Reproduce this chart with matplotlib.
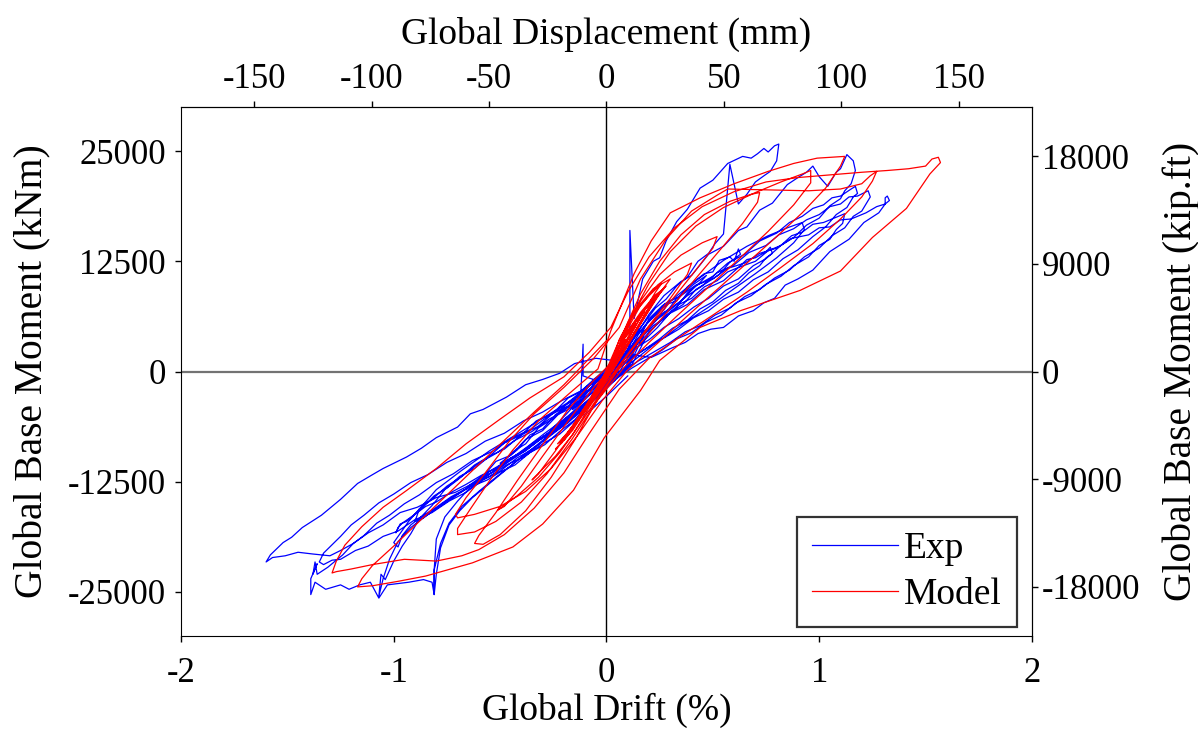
import matplotlib
matplotlib.use('Agg')
import matplotlib.pyplot as plt
import numpy as np

plt.rcParams['font.family'] = ['Liberation Serif', 'DejaVu Serif']
plt.rcParams['axes.unicode_minus'] = False

#-------------------------------------------------------------------------------
# data: (drift %, base moment kNm), cycle by cycle
exp_c1 = [(0.00, 0), (0.06, 1800), (0.12, 3500), (0.15, 4600), (0.11, 3300), (0.03, 900),
          (-0.05, -1200), (-0.12, -3300), (-0.16, -4300), (-0.12, -3500), (-0.04, -1400), (0.02, 300)]
exp_c2 = [(0.10, 3000), (0.18, 5200), (0.26, 7400), (0.30, 8100), (0.27, 7000), (0.15, 3800),
          (0.04, 800), (-0.08, -2000), (-0.18, -4600), (-0.27, -6900), (-0.32, -7800),
          (-0.28, -7200), (-0.16, -4600), (-0.04, -1700), (0.05, 800)]
exp_c3 = [(0.14, 3400), (0.20, 5000), (0.24, 6200), (0.29, 7000), (0.33, 8300), (0.41, 9900),
          (0.47, 10900), (0.44, 10100), (0.38, 8900), (0.33, 7300), (0.27, 6200), (0.20, 4400),
          (0.08, 1600), (-0.05, -1000), (-0.11, -500), (-0.11, 3100), (-0.12, -2200), (-0.18, -4000),
          (-0.24, -4900), (-0.30, -6500), (-0.36, -7200), (-0.42, -8900), (-0.50, -10400),
          (-0.47, -10100), (-0.41, -9300), (-0.35, -8200), (-0.28, -7100), (-0.20, -5600),
          (-0.13, -4500), (-0.06, -2600), (0.05, 100)]
exp_c4 = [(0.15, 4200), (0.22, 6300), (0.28, 7600), (0.33, 8000), (0.38, 9600), (0.46, 11100),
          (0.50, 11300), (0.53, 12600), (0.58, 13000), (0.60, 12500), (0.62, 13900), (0.63, 13300),
          (0.58, 12400), (0.53, 11000), (0.48, 10200), (0.42, 9300), (0.36, 7600), (0.30, 6700),
          (0.24, 5000), (0.12, 2200), (0.00, -400), (-0.08, -1600), (-0.15, -3600),
          (-0.22, -4700), (-0.30, -6700), (-0.38, -7700), (-0.45, -9500), (-0.52, -10200),
          (-0.57, -11600), (-0.65, -13000), (-0.62, -12900), (-0.56, -12300), (-0.50, -11400),
          (-0.43, -10600), (-0.36, -9200), (-0.29, -8300), (-0.22, -6800), (-0.15, -5500),
          (-0.08, -3500), (0.04, -600)]
exp_c5 = [(0.11, 3000), (0.11, 16000), (0.13, 6000), (0.17, 10500), (0.22, 12500), (0.25, 12900),
          (0.28, 14800), (0.33, 17000), (0.38, 18400), (0.44, 20800), (0.50, 21700), (0.57, 23600),
          (0.64, 24400), (0.68, 24200), (0.71, 24700), (0.74, 25300), (0.76, 24900), (0.79, 25600),
          (0.81, 25800), (0.80, 23900), (0.77, 22700), (0.74, 22200), (0.70, 21500), (0.66, 20100),
          (0.62, 19000), (0.58, 23500), (0.55, 15600), (0.51, 14500), (0.48, 13400), (0.43, 12500),
          (0.38, 10700), (0.33, 9700), (0.28, 8200), (0.23, 7200), (0.18, 5600), (0.08, 2600),
          (0.00, 300), (-0.06, -900), (-0.12, -2300), (-0.18, -3500), (-0.25, -5300),
          (-0.32, -6400), (-0.38, -8200), (-0.44, -9100), (-0.50, -10600), (-0.55, -11300),
          (-0.60, -12600), (-0.65, -13400), (-0.70, -14700), (-0.76, -16500), (-0.80, -19000),
          (-0.81, -22500), (-0.81, -25300), (-0.80, -23000), (-0.78, -20000), (-0.74, -17400),
          (-0.69, -15800), (-0.63, -14300), (-0.56, -12900), (-0.48, -11300), (-0.40, -9700),
          (-0.32, -8200), (-0.24, -6600), (-0.16, -5100), (-0.08, -3300), (0.02, -1000),
          (0.08, 0)]
exp_c6 = [(0.15, 3500), (0.22, 5200), (0.28, 6200), (0.34, 7600), (0.40, 8300), (0.46, 9600),
          (0.52, 10300), (0.57, 11300), (0.62, 11800), (0.66, 12700), (0.70, 12900), (0.75, 13600),
          (0.77, 14100), (0.78, 13400), (0.75, 12900), (0.72, 12000), (0.67, 11200), (0.62, 10000),
          (0.56, 9200), (0.50, 7900), (0.44, 7100), (0.38, 5800), (0.31, 4900), (0.25, 3700),
          (0.12, 1500), (0.00, -600), (-0.08, -1600), (-0.15, -3200), (-0.24, -4500),
          (-0.32, -6200), (-0.40, -7200), (-0.48, -8800), (-0.55, -9600), (-0.62, -11000),
          (-0.69, -11900), (-0.75, -13200), (-0.81, -14100), (-0.86, -15300), (-0.94, -17000),
          (-0.97, -17300), (-0.99, -18300), (-0.98, -17700), (-0.96, -17200), (-0.90, -16200),
          (-0.85, -15300), (-0.80, -14800), (-0.73, -13700), (-0.66, -12800), (-0.59, -11800),
          (-0.52, -11000), (-0.45, -9800), (-0.38, -8900), (-0.31, -7700), (-0.24, -6700),
          (-0.17, -5400), (-0.10, -3900), (0.02, -1300), (0.10, 600)]
exp_c7 = [(0.20, 6500), (0.27, 8600), (0.35, 10200), (0.40, 10900), (0.48, 13300), (0.55, 14200),
          (0.62, 16000), (0.66, 16400), (0.72, 18300), (0.78, 19100), (0.85, 21200), (0.90, 22000),
          (0.94, 22600), (0.97, 23300), (1.00, 22100), (1.04, 21000), (1.08, 22600), (1.10, 23000),
          (1.13, 24600), (1.16, 23900), (1.17, 22800), (1.15, 21300), (1.12, 20500), (1.10, 19600),
          (1.05, 18800), (1.00, 17400), (0.94, 16600), (0.88, 15200), (0.82, 14300), (0.75, 12800),
          (0.69, 12000), (0.62, 10500), (0.55, 9700), (0.48, 8300), (0.41, 7300), (0.34, 6000),
          (0.27, 5000), (0.20, 3600), (0.12, 2400), (0.05, 800), (-0.03, -500), (-0.10, -2000),
          (-0.18, -3000), (-0.25, -4700), (-0.33, -5600), (-0.40, -7200), (-0.48, -8100),
          (-0.55, -9600), (-0.62, -10600), (-0.70, -12300), (-0.76, -13400), (-0.82, -15200),
          (-0.88, -16700), (-0.92, -18400), (-0.96, -19800), (-1.00, -21500), (-1.04, -23600),
          (-1.06, -23000), (-1.07, -25500), (-1.05, -23500), (-1.02, -21300), (-0.98, -19300),
          (-0.92, -17700), (-0.85, -16400), (-0.77, -15100), (-0.69, -13800), (-0.61, -12600),
          (-0.53, -11300), (-0.45, -9900), (-0.37, -8500), (-0.29, -7000), (-0.21, -5600),
          (-0.13, -4200), (-0.05, -2500), (0.03, -700), (0.12, 800)]
exp_c8 = [(0.20, 4500), (0.29, 6500), (0.38, 7600), (0.46, 9300), (0.55, 10300), (0.62, 11800),
          (0.70, 12500), (0.76, 13700), (0.82, 14300), (0.87, 15400), (0.92, 15800), (0.97, 16700),
          (1.02, 16900), (1.08, 17500), (1.12, 17900), (1.11, 16800), (1.08, 16100), (1.05, 15000),
          (1.00, 14300), (0.95, 13000), (0.88, 12000), (0.82, 10800), (0.75, 9900), (0.68, 8600),
          (0.61, 7800), (0.54, 6400), (0.47, 5600), (0.40, 4400), (0.33, 3700), (0.26, 2400),
          (0.12, 400), (-0.02, -1900), (-0.10, -2900), (-0.18, -4300), (-0.27, -5400),
          (-0.35, -6800), (-0.43, -7800), (-0.52, -9300), (-0.60, -10400), (-0.68, -11900),
          (-0.75, -13000), (-0.82, -14500), (-0.88, -15600), (-0.93, -17000), (-1.00, -19400),
          (-0.98, -19900), (-0.96, -18600), (-0.92, -17400), (-0.86, -16300), (-0.80, -15400),
          (-0.73, -14200), (-0.66, -13300), (-0.59, -12100), (-0.52, -11200), (-0.45, -9900),
          (-0.38, -9000), (-0.31, -7600), (-0.24, -6600), (-0.17, -5200), (-0.09, -3600),
          (0.04, -1000)]
exp_c9 = [(0.15, 3800), (0.22, 5600), (0.30, 7000), (0.38, 8600), (0.45, 9700), (0.52, 11200),
          (0.60, 12100), (0.67, 13500), (0.75, 14300), (0.81, 15500), (0.88, 16200), (0.94, 17200),
          (1.00, 17800), (1.05, 18700), (1.10, 19000), (1.14, 19800), (1.18, 19900), (1.23, 20500),
          (1.24, 19800), (1.20, 18200), (1.16, 17600), (1.12, 16300), (1.06, 15400), (1.00, 14000),
          (0.93, 13000), (0.86, 11500), (0.79, 10600), (0.72, 9300), (0.65, 8500), (0.58, 7200),
          (0.51, 6400), (0.44, 5200), (0.37, 4500), (0.30, 3300), (0.15, 1200), (0.00, -1200),
          (-0.09, -2300), (-0.18, -3900), (-0.27, -5000), (-0.36, -6600), (-0.45, -7600),
          (-0.54, -9100), (-0.63, -10100), (-0.72, -11600), (-0.80, -12600), (-0.88, -14000),
          (-0.95, -15000), (-1.02, -16300), (-1.08, -17200), (-1.14, -18600), (-1.19, -19500),
          (-1.24, -20800), (-1.31, -22200), (-1.36, -23000), (-1.37, -21600), (-1.38, -23000),
          (-1.36, -21800), (-1.39, -23500), (-1.39, -25300), (-1.37, -23900), (-1.32, -24700),
          (-1.25, -24200), (-1.21, -24700), (-1.16, -24200), (-1.11, -23900), (-1.07, -25700),
          (-1.03, -24200), (-0.93, -23900), (-0.86, -23600), (-0.82, -23900), (-0.81, -25300),
          (-0.81, -22500), (-0.78, -19500), (-0.74, -17200), (-0.68, -15300), (-0.60, -13600),
          (-0.52, -12000), (-0.44, -10500), (-0.36, -9000), (-0.28, -7600), (-0.20, -6100),
          (-0.12, -4500), (-0.04, -2700), (0.04, -800), (0.10, 300)]
exp_c10 = [(0.18, 4400), (0.26, 6500), (0.35, 8000), (0.42, 9700), (0.50, 10800), (0.57, 12300),
           (0.65, 13300), (0.72, 14800), (0.80, 15700), (0.86, 16900), (0.92, 17600), (0.97, 18500),
           (1.02, 18900), (1.06, 19700), (1.10, 19900), (1.15, 20700), (1.17, 21000), (1.18, 20200),
           (1.16, 19800), (1.13, 18600), (1.08, 17800), (1.03, 16400), (0.97, 15300), (0.90, 13800),
           (0.83, 12800), (0.76, 11300), (0.69, 10400), (0.62, 9000), (0.55, 8200), (0.48, 6900),
           (0.41, 6100), (0.34, 4800), (0.20, 2800), (0.05, 600), (-0.04, -600), (-0.12, -2200),
           (-0.21, -3300), (-0.30, -4600), (-0.39, -5600), (-0.48, -7000), (-0.57, -7900),
           (-0.66, -9300), (-0.75, -10300), (-0.84, -11700), (-0.92, -12600), (-1.00, -13900),
           (-1.07, -14900), (-1.14, -16300), (-1.20, -17400), (-1.25, -18700), (-1.33, -20600),
           (-1.35, -21600), (-1.33, -21900), (-1.29, -21400), (-1.25, -21300), (-1.18, -20300),
           (-1.12, -19800), (-1.05, -18700), (-0.98, -18100), (-0.90, -16800), (-0.82, -16000),
           (-0.74, -14700), (-0.66, -13700), (-0.58, -12300), (-0.50, -11300), (-0.42, -9800),
           (-0.34, -8700), (-0.26, -7100), (-0.18, -5800), (-0.11, -4200), (-0.04, -2900),
           (0.08, 0)]
exp_c11 = [(0.20, 6000), (0.27, 7600), (0.35, 8600), (0.42, 9800), (0.50, 10500), (0.57, 11700),
           (0.65, 12300), (0.72, 13400), (0.80, 14000), (0.87, 15100), (0.95, 15500), (1.00, 16300),
           (1.05, 16400), (1.10, 17200), (1.15, 17300), (1.22, 18000), (1.27, 18700), (1.31, 19000),
           (1.31, 19700), (1.32, 19900), (1.33, 19400), (1.31, 19000), (1.28, 18000), (1.21, 16900),
           (1.14, 15000), (1.05, 13600), (0.97, 11500), (0.90, 10500), (0.84, 9800), (0.79, 8300),
           (0.74, 7800), (0.69, 6900), (0.62, 6300), (0.55, 5000), (0.49, 4800), (0.43, 4300),
           (0.37, 3300), (0.31, 2700), (0.21, 1600), (0.12, 1900), (0.05, 1200), (-0.05, 1500),
           (-0.15, 900), (-0.22, -200), (-0.30, -900), (-0.38, -1500), (-0.47, -2900),
           (-0.58, -4300), (-0.64, -4800), (-0.70, -6300), (-0.80, -7500), (-0.87, -8700),
           (-0.94, -9700), (-1.05, -11000), (-1.10, -11700), (-1.17, -12700), (-1.25, -14500),
           (-1.34, -16300), (-1.43, -17700), (-1.48, -18800), (-1.52, -19400), (-1.58, -20800),
           (-1.60, -21600), (-1.57, -21100), (-1.51, -20900), (-1.45, -20500), (-1.38, -20700),
           (-1.30, -20900), (-1.25, -20300), (-1.19, -19500), (-1.12, -18300), (-1.05, -17400),
           (-0.97, -16000), (-0.89, -15400), (-0.80, -14300), (-0.71, -13700), (-0.62, -12600),
           (-0.55, -11900), (-0.47, -10600), (-0.39, -9700), (-0.30, -8200), (-0.22, -7100),
           (-0.15, -5600), (-0.07, -4300), (0.00, -2800), (0.10, -500)]
exp_c12 = [(0.18, 5200), (0.30, 8000), (0.42, 10300), (0.55, 12600), (0.66, 14200), (0.76, 15400),
           (0.85, 16300), (0.92, 16900), (0.93, 16100), (0.88, 14600), (0.80, 12900), (0.70, 11100),
           (0.60, 9400), (0.48, 7300), (0.36, 5400), (0.22, 3000), (0.08, 300), (-0.08, -2000),
           (-0.24, -4400), (-0.40, -6800), (-0.55, -9000), (-0.68, -11200), (-0.80, -13400),
           (-0.88, -15600), (-0.90, -17000), (-0.86, -16600), (-0.76, -14800), (-0.64, -13000),
           (-0.50, -10900), (-0.36, -8600), (-0.22, -6000), (-0.08, -3100), (0.02, -500)]

model_c1 = [(0.00, 0), (0.03, 1500), (0.06, 2700), (0.09, 3600), (0.07, 2800), (0.03, 1000),
            (0.00, -300), (-0.03, -1500), (-0.06, -2600), (-0.08, -3300), (-0.06, -2600),
            (-0.03, -1200), (0.00, 100)]
model_c2 = [(0.04, 2000), (0.08, 3600), (0.12, 4800), (0.14, 5400), (0.11, 4300), (0.06, 2100),
            (0.01, -200), (-0.04, -2000), (-0.09, -3700), (-0.12, -4700), (-0.10, -4000),
            (-0.05, -2000), (0.00, 0)]
model_c3 = [(0.05, 2500), (0.10, 4400), (0.15, 6000), (0.18, 6800), (0.15, 5700), (0.09, 3100),
            (0.02, 200), (-0.05, -2400), (-0.11, -4500), (-0.15, -5900), (-0.13, -5200),
            (-0.07, -2900), (0.00, -100)]
model_c4 = [(0.06, 2900), (0.12, 5100), (0.18, 7000), (0.22, 8000), (0.19, 6900), (0.12, 4000),
            (0.04, 600), (-0.05, -2600), (-0.12, -5000), (-0.18, -6800), (-0.15, -6000),
            (-0.08, -3300), (0.00, -200)]
model_c5 = [(0.07, 3300), (0.14, 5800), (0.20, 7700), (0.25, 9000), (0.21, 7700), (0.13, 4300),
            (0.04, 600), (-0.06, -3000), (-0.14, -5600), (-0.20, -7500), (-0.17, -6700),
            (-0.09, -3700), (0.00, 0)]
model_c6 = [(0.07, 3500), (0.15, 6200), (0.22, 8300), (0.28, 9700), (0.24, 8600), (0.15, 5000),
            (0.05, 900), (-0.06, -3100), (-0.15, -6000), (-0.22, -8000), (-0.19, -7300),
            (-0.10, -4200), (0.00, -300)]
model_c7 = [(0.08, 3900), (0.16, 6700), (0.23, 8700), (0.27, 9400), (0.22, 7900), (0.13, 4400),
            (0.03, 300), (-0.07, -3500), (-0.16, -6300), (-0.23, -8200), (-0.20, -7600),
            (-0.11, -4500), (0.00, -500)]
model_c7b = [(0.06, 3600), (0.13, 6600), (0.20, 8600), (0.26, 10000), (0.23, 9000), (0.14, 5300),
             (0.04, 1200), (-0.07, -3300), (-0.16, -6700), (-0.24, -8800), (-0.21, -8100),
             (-0.12, -4900), (-0.02, -900)]
model_c7c = [(0.07, 4100), (0.15, 7400), (0.22, 9400), (0.30, 10500), (0.26, 9200), (0.16, 5400),
             (0.05, 1000), (-0.05, -2700), (-0.13, -5500), (-0.20, -7800), (-0.18, -7200),
             (-0.10, -4300), (0.00, -200)]
model_c8 = [(0.08, 4000), (0.16, 7500), (0.24, 9800), (0.32, 11300), (0.40, 12300), (0.38, 11000),
            (0.30, 8300), (0.20, 5200), (0.10, 2000), (0.00, -1200), (-0.08, -4000), (-0.16, -7200),
            (-0.24, -9600), (-0.31, -11300), (-0.35, -12300), (-0.32, -11600), (-0.24, -9000),
            (-0.15, -5800), (-0.06, -2500), (0.02, 200)]
model_c9 = [(0.08, 4200), (0.16, 8000), (0.25, 11000), (0.35, 13200), (0.45, 14600), (0.52, 15300),
            (0.50, 14000), (0.42, 11500), (0.32, 8500), (0.20, 5000), (0.08, 1200), (-0.02, -2200),
            (-0.12, -5800), (-0.22, -9200), (-0.32, -12000), (-0.42, -14100), (-0.51, -15700),
            (-0.48, -15300), (-0.40, -13000), (-0.30, -9600), (-0.18, -5600), (-0.06, -1800),
            (0.03, 600)]
model_c10 = [(0.08, 4500), (0.16, 8800), (0.25, 12500), (0.35, 15500), (0.46, 17800), (0.58, 19300),
             (0.68, 20100), (0.72, 20300), (0.71, 19200), (0.64, 16800), (0.52, 13400), (0.40, 10000),
             (0.28, 6600), (0.16, 3200), (0.05, 0), (-0.05, -3500), (-0.15, -7800), (-0.26, -12000),
             (-0.38, -15800), (-0.50, -18500), (-0.58, -19600), (-0.62, -19500), (-0.60, -18600),
             (-0.52, -16000), (-0.42, -12400), (-0.30, -8300), (-0.18, -4300), (-0.06, -1000),
             (0.04, 1400)]
model_c11 = [(0.10, 5500), (0.20, 10000), (0.30, 13600), (0.42, 16500), (0.55, 18600), (0.70, 20300),
             (0.82, 21500), (0.92, 22400), (0.96, 22800), (0.96, 21400), (0.88, 18900), (0.76, 15900),
             (0.62, 12700), (0.48, 9600), (0.34, 6500), (0.20, 3300), (0.08, 400), (-0.04, -3200),
             (-0.16, -7600), (-0.28, -11600), (-0.40, -14800), (-0.52, -17000), (-0.62, -18200),
             (-0.70, -18500), (-0.70, -17800), (-0.64, -15600), (-0.55, -12400), (-0.44, -8900),
             (-0.32, -5600), (-0.18, -2600), (-0.04, 300)]
model_c12 = [(0.02, 4600), (0.13, 11100), (0.21, 14800), (0.30, 18000), (0.44, 19700), (0.60, 21300),
             (0.76, 22700), (0.88, 23600), (0.99, 24200), (1.12, 24400), (1.10, 23300), (1.03, 20800),
             (0.92, 18000), (0.80, 15300), (0.66, 12300), (0.52, 9300), (0.38, 6300), (0.24, 3200),
             (0.10, 200), (-0.02, -3300), (-0.14, -7400), (-0.26, -11000), (-0.38, -13600),
             (-0.50, -15300), (-0.62, -16200), (-0.70, -16600), (-0.71, -16200), (-0.66, -14300),
             (-0.57, -11500), (-0.46, -8000), (-0.34, -4800), (-0.20, -1800), (-0.06, 1500)]
model_c13 = [(0.06, 5000), (0.16, 10500), (0.28, 15000), (0.40, 18200), (0.52, 20000), (0.57, 20700),
             (0.75, 20600), (0.95, 20500), (1.10, 20700), (1.20, 21300), (1.24, 22200), (1.27, 22700),
             (1.25, 21600), (1.20, 19800), (1.10, 17300), (0.97, 14500), (0.82, 11800), (0.66, 9000),
             (0.50, 6400), (0.35, 4000), (0.20, 1500), (0.06, -2000), (-0.08, -7000), (-0.20, -11500),
             (-0.34, -15500), (-0.48, -18500), (-0.60, -20200), (-0.68, -20900), (-0.80, -21500),
             (-0.95, -21300), (-1.10, -21900), (-1.20, -22400), (-1.27, -22700), (-1.29, -22850),
             (-1.27, -21500), (-1.23, -19700), (-1.15, -17600), (-1.05, -15400), (-0.94, -13500),
             (-0.80, -11000), (-0.66, -8200), (-0.50, -5400), (-0.36, -3000), (-0.20, -600),
             (-0.08, 2200), (0.02, 5000)]
model_c14 = [(0.10, 9000), (0.20, 13000), (0.32, 16300), (0.45, 18700), (0.60, 20400), (0.75, 21500),
             (0.90, 22000), (1.05, 22300), (1.20, 22600), (1.32, 22800), (1.42, 23000), (1.50, 23300),
             (1.53, 24100), (1.56, 24300), (1.57, 23700), (1.52, 22400), (1.41, 18500), (1.25, 15200),
             (1.10, 11400), (0.91, 9200), (0.63, 6900), (0.44, 5000), (0.25, 1250), (0.16, -2150),
             (-0.01, -7500), (-0.155, -13460), (-0.30, -17300), (-0.44, -19900), (-0.63, -21700),
             (-0.85, -23200), (-0.98, -23800), (-1.10, -24300), (-1.17, -24430), (-1.15, -23500),
             (-1.10, -22000), (-1.00, -19800), (-0.88, -17000), (-0.75, -14000), (-0.62, -11000),
             (-0.48, -7800), (-0.34, -4600), (-0.20, -1500), (-0.08, 1500), (0.00, 3500)]

exp_cycles = [exp_c1, exp_c2, exp_c3, exp_c4, exp_c5, exp_c6, exp_c12, exp_c7, exp_c8, exp_c9,
              exp_c10, exp_c11]
model_cycles = [model_c1, model_c2, model_c3, model_c4, model_c5, model_c6, model_c7, model_c7b,
                model_c7c, model_c8, model_c9, model_c10, model_c11, model_c12, model_c13, model_c14]

drift_ticks = [-2, -1, 0, 1, 2]
disp_ticks = [-150, -100, -50, 0, 50, 100, 150]
knm_ticks = [-25000, -12500, 0, 12500, 25000]
kipft_ticks = [-18000, -9000, 0, 9000, 18000]

mm_per_pct = 90.65      # storey height / 100
knm_per_kipft = 1.3558

#-------------------------------------------------------------------------------
exp = np.array([p for c in exp_cycles for p in c])
mod = np.array([p for c in model_cycles for p in c])

fig = plt.figure(figsize=(11.98, 7.34), dpi=100)
ax = fig.add_axes([0.1511, 0.1335, 0.7103, 0.7207])

ax.axhline(0, color='0.45', lw=1.6, zorder=1)
ax.axvline(0, color='k', lw=1.0, zorder=1)
ax.plot(exp[:, 0], exp[:, 1], color='#0000ff', lw=0.9, label='Exp', zorder=2)
ax.plot(mod[:, 0], mod[:, 1], color='#ff0000', lw=0.9, label='Model', zorder=3)

ax.set_xlim(-2, 2)
ax.set_ylim(-30000, 30000)
ax.set_xticks(drift_ticks)
ax.set_yticks(knm_ticks)
ax.set_xlabel('Global Drift (%)', fontsize=27, labelpad=2)
ax.set_ylabel('Global Base Moment (kNm)', fontsize=28.5, labelpad=12)
ax.tick_params(axis='x', direction='out', length=4, width=1, labelsize=25, pad=11)
ax.tick_params(axis='y', direction='out', length=4, width=1, labelsize=25, pad=7)

top = ax.secondary_xaxis('top', functions=(lambda d: d * mm_per_pct, lambda m: m / mm_per_pct))
top.set_xticks(disp_ticks)
top.set_xlabel('Global Displacement (mm)', fontsize=27, labelpad=14)
top.tick_params(direction='out', length=4, width=1, labelsize=25, pad=4)

right = ax.secondary_yaxis('right', functions=(lambda m: m / knm_per_kipft, lambda k: k * knm_per_kipft))
right.set_yticks(kipft_ticks)
right.set_ylabel('Global Base Moment (kip.ft)', fontsize=28.5, labelpad=16)
right.tick_params(direction='out', length=4, width=1, labelsize=25, pad=3)

leg = ax.legend(loc='lower right', bbox_to_anchor=(0.982, 0.017), fontsize=27, frameon=True,
                fancybox=False, edgecolor='k', handlelength=2.3, handletextpad=0.15,
                borderpad=0.4, labelspacing=0.3, borderaxespad=0)
leg.get_frame().set_linewidth(1.6)

fig.savefig('out.png', dpi=100)
